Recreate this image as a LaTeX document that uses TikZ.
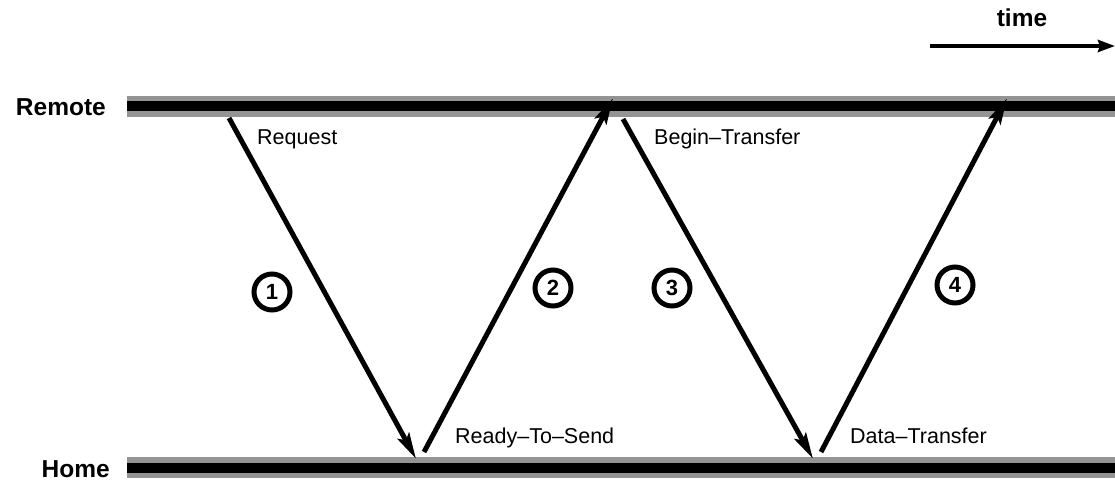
\documentclass[tikz,border=0pt]{standalone}
\usepackage{fontspec}
\setmainfont{Liberation Sans}
\usetikzlibrary{arrows.meta}
\begin{document}
\begin{tikzpicture}[x=1pt,y=-1pt,
  lbl/.style={font=\fontsize{21.5}{24}\selectfont, inner sep=0pt, anchor=base west},
  side/.style={font=\fontsize{24.5}{28}\selectfont\bfseries, inner sep=0pt},
  num/.style={circle, draw, line width=5pt, minimum size=36pt, inner sep=0pt,
    font=\fontsize{22}{22}\selectfont\bfseries},
  msg/.style={line width=5pt, -{Stealth[length=26pt,width=13pt,inset=5pt]}, shorten >=-2pt},
  bandgray/.style={fill=black!42, draw=none},
  bandcore/.style={fill=black, draw=none}]
\useasboundingbox (0,0) rectangle (1115,481);
% bands
\fill[bandgray] (127,96) rectangle (1115,117);
\fill[bandcore] (127,101.5) rectangle (1115,111);
\fill[bandgray] (127,457) rectangle (1115,478);
\fill[bandcore] (127,462.5) rectangle (1115,472.5);
% side labels
\node[side, anchor=base east] (remote) at (106,116) {Remote};
\node[side, anchor=base east] (home) at (110,477) {Home};
% time arrow
\node[side, anchor=base] (time) at (1022,27) {time};
\coordinate (t0) at (930,46);
\coordinate (t1) at (1115,46);
\draw[line width=4pt, -{Stealth[length=17pt,width=12pt,inset=2pt]}] (t0) -- (t1);
% arrow endpoints
\coordinate (a1s) at (229,118);
\coordinate (a1e) at (415,457);
\coordinate (a2s) at (424,452);
\coordinate (a2e) at (612,100);
\coordinate (a3s) at (623,119);
\coordinate (a3e) at (812,457);
\coordinate (a4s) at (821,452);
\coordinate (a4e) at (1006,100);
\draw[msg] (a1s) -- (a1e);
\draw[msg] (a2s) -- (a2e);
\draw[msg] (a3s) -- (a3e);
\draw[msg] (a4s) -- (a4e);
% labels
\node[lbl] (req) at (257,145) {Request};
\node[lbl] (bt) at (654,145) {Begin--Transfer};
\node[lbl] (rts) at (455,443) {Ready--To--Send};
\node[lbl] (dt) at (850,443) {Data--Transfer};
% numbers
\node[num] (n1) at (272,292) {1};
\node[num] (n2) at (553,288) {2};
\node[num] (n3) at (672,288) {3};
\node[num] (n4) at (955,285) {4};
\end{tikzpicture}
\end{document}
